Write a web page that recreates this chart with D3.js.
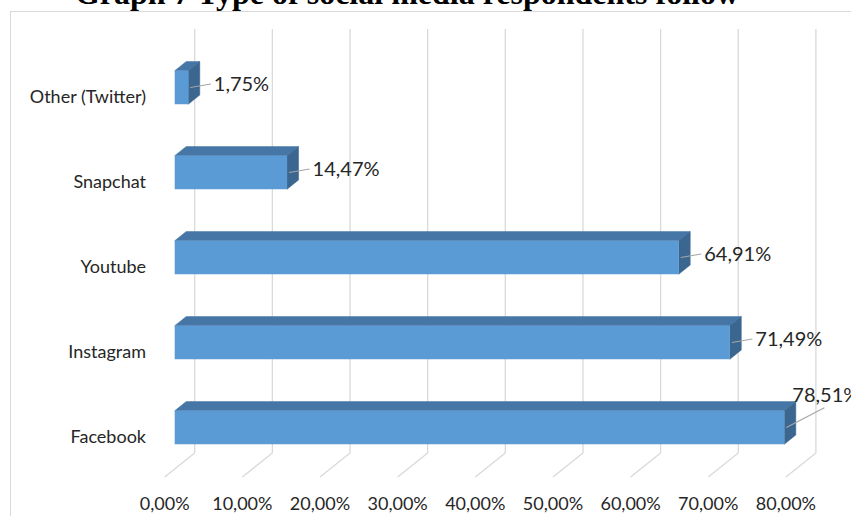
<!DOCTYPE html>
<html>
<head>
<meta charset="utf-8">
<script src="https://d3js.org/d3.v7.min.js"></script>
<style>
  body { margin: 0; background: #fff; }
  text { font-family: Lato, "Open Sans", sans-serif; fill: #262626; }
  .title { font-family: "Liberation Serif", "Times New Roman", serif; font-weight: bold; fill: #000; }
</style>
</head>
<body>
<div id="chartHere"></div>
<script>
// data, top to bottom as drawn
var categories = ['Other (Twitter)', 'Snapchat', 'Youtube', 'Instagram', 'Facebook'];
var values = [1.75, 14.47, 64.91, 71.49, 78.51];
var ticks = [0, 10, 20, 30, 40, 50, 60, 70, 80];
var title = 'Graph 7 Type of social media respondents follow';

var W = 851, H = 516;
var svg = d3.select('#chartHere').append('svg')
  .attr('width', W).attr('height', H);

// chart frame (runs off the picture at right and bottom)
svg.append('rect')
  .attr('x', 10.5).attr('y', 11.5)
  .attr('width', 900).attr('height', 600)
  .attr('fill', 'none').attr('stroke', '#d9d9d9');

svg.append('text')
  .attr('class', 'title')
  .attr('x', 407).attr('y', 4)
  .attr('text-anchor', 'middle')
  .attr('font-size', 32)
  .text(title);

// x scale lives on the back wall
var x = d3.scaleLinear().domain([0, 80]).range([194.7, 815.9]);
var depthX = 30, depthY = 24;     // floor depth (back -> front)
var wallTop = 29, floorBack = 453;
var barOff = 20, barDepth = 11.5; // bar front sits 20px in front of the wall

var y = d3.scaleBand().domain(categories).range([45, 470])
  .paddingInner(0.606).paddingOuter(0.303);

// back wall gridlines
svg.selectAll('line.grid').data(ticks).enter().append('line')
  .attr('class', 'grid')
  .attr('x1', d => x(d)).attr('x2', d => x(d))
  .attr('y1', wallTop).attr('y2', floorBack)
  .attr('stroke', '#d9d9d9').attr('stroke-width', 1.3);

// floor lines
svg.selectAll('line.floor').data(ticks).enter().append('line')
  .attr('class', 'floor')
  .attr('x1', d => x(d)).attr('y1', floorBack)
  .attr('x2', d => x(d) - depthX).attr('y2', floorBack + depthY)
  .attr('stroke', '#d9d9d9').attr('stroke-width', 1.3);

// tick labels
svg.selectAll('text.tick').data(ticks).enter().append('text')
  .attr('class', 'tick')
  .attr('x', d => x(d) - depthX).attr('y', 510)
  .attr('text-anchor', 'middle')
  .attr('font-size', 18)
  .text(d => d3.format('.2f')(d).replace('.', ',') + '%');

// category labels
svg.selectAll('text.cat').data(categories).enter().append('text')
  .attr('class', 'cat')
  .attr('x', 146)
  .attr('y', d => y(d) + y.bandwidth() / 2 + 9)
  .attr('dy', '0.35em')
  .attr('text-anchor', 'end')
  .attr('font-size', 18)
  .text(d => d);

// 3d bars
var bdx = barDepth, bdy = barDepth * 0.8;
var bars = svg.selectAll('g.bar').data(categories).enter().append('g')
  .attr('class', 'bar');

bars.each(function (c, i) {
  var g = d3.select(this);
  var x0 = x(0) - barOff, x1 = x(values[i]) - barOff;
  var y0 = y(c), y1 = y(c) + y.bandwidth();
  // top face
  g.append('path')
    .attr('d', 'M' + x0 + ',' + y0 + 'L' + (x0 + bdx) + ',' + (y0 - bdy) +
      'L' + (x1 + bdx) + ',' + (y0 - bdy) + 'L' + x1 + ',' + y0 + 'Z')
    .attr('fill', '#4676a6').attr('stroke', '#4676a6').attr('stroke-width', 0.5);
  // side face
  g.append('path')
    .attr('d', 'M' + x1 + ',' + y0 + 'L' + (x1 + bdx) + ',' + (y0 - bdy) +
      'L' + (x1 + bdx) + ',' + (y1 - bdy) + 'L' + x1 + ',' + y1 + 'Z')
    .attr('fill', '#3a6690').attr('stroke', '#3a6690').attr('stroke-width', 0.5);
  // front face
  g.append('rect')
    .attr('x', x0).attr('y', y0)
    .attr('width', x1 - x0).attr('height', y1 - y0)
    .attr('fill', '#5b9bd5');

  // value label with leader line
  var mid = y0 + y.bandwidth() / 2;
  var lx = x1 + bdx + 14, ly = mid - 3.5;
  var label = d3.format('.2f')(values[i]).replace('.', ',') + '%';
  var lineEnd = [lx - 3, ly];
  if (lx + 60 > W) {
    // no room on the right: put it above the bar end
    lx = x1 + 8; ly = y0 - 16;
    lineEnd = [lx + 32, ly + 13];
  }
  g.append('line')
    .attr('x1', x1 + 2).attr('y1', mid)
    .attr('x2', lineEnd[0]).attr('y2', lineEnd[1])
    .attr('stroke', '#a6a6a6').attr('stroke-width', 1.2);
  g.append('text')
    .attr('x', lx).attr('y', ly)
    .attr('dy', '0.35em')
    .attr('font-size', 20)
    .text(label);
});
</script>
</body>
</html>
